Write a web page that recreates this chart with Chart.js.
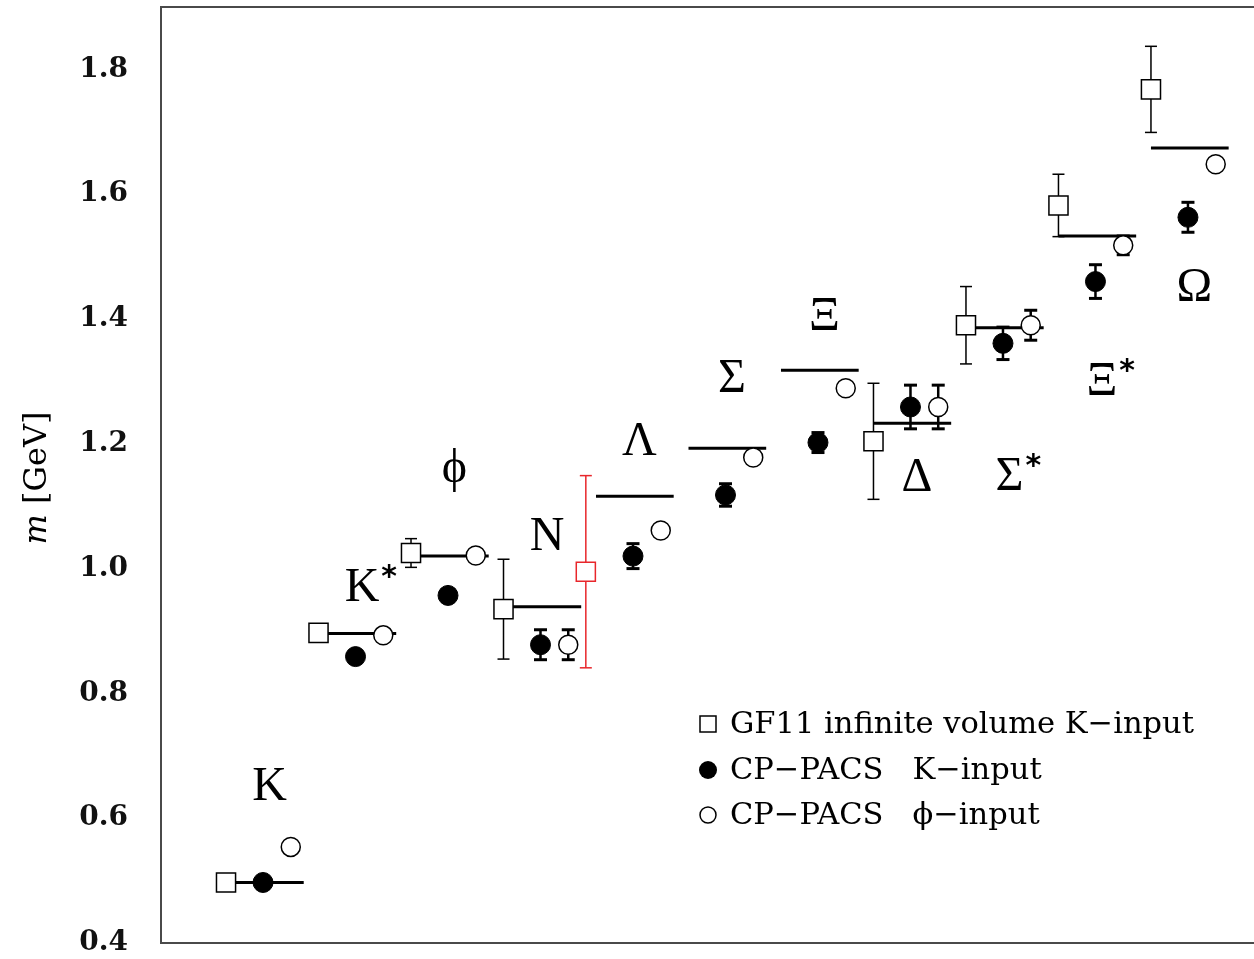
<!DOCTYPE html>
<html>
<head>
<meta charset="utf-8">
<script src="https://cdn.jsdelivr.net/npm/chart.js@4.4.0/dist/chart.umd.min.js"></script>
<style>
  html, body { margin: 0; padding: 0; background: #fff; overflow: hidden; }
  #wrap { width: 1254px; height: 959px; }
  canvas { display: block; }
</style>
</head>
<body>
<div id="wrap"><canvas id="massChart" width="1254" height="959"></canvas></div>
<script>
// hadron spectrum, masses in GeV (one entry per particle, null = not measured)
const particles = ['K', 'K*', 'ϕ', 'N', 'Λ', 'Σ', 'Ξ', 'Δ', 'Σ*', 'Ξ*', 'Ω'];
const expMass = [0.497, 0.896, 1.020, 0.939, 1.116, 1.193, 1.318, 1.233, 1.386, 1.533, 1.674];

const gf11Mass = [0.497, 0.897, 1.025, 0.935, null, null, null, 1.204, 1.390, 1.582, 1.768];
const gf11Err  = [0, 0.004, 0.023, 0.080, null, null, null, 0.093, 0.062, 0.050, 0.069];
// the red GF11 point sitting next to Lambda
const gf11RedMass = [null, null, null, null, 0.995, null, null, null, null, null, null];
const gf11RedErr  = [null, null, null, null, 0.154, null, null, null, null, null, null];

const kInputMass = [0.497, 0.859, 0.957, 0.878, 1.020, 1.118, 1.202, 1.259, 1.361, 1.460, 1.563];
const kInputErr  = [0, 0, 0, 0.024, 0.020, 0.018, 0.016, 0.035, 0.026, 0.027, 0.024];
const phiInputMass = [0.554, 0.893, 1.021, 0.878, 1.061, 1.178, 1.289, 1.259, 1.390, 1.518, 1.648];
const phiInputErr  = [0, 0, 0, 0.024, 0, 0, 0, 0.035, 0.024, 0.015, 0];

// where the particle names sit (mass units)
const labelMass = [0.650, 0.969, 1.159, 1.050, 1.202, 1.303, 1.402, 1.144, 1.146, 1.298, 1.449];

const yTicks = [0.4, 0.6, 0.8, 1.0, 1.2, 1.4, 1.6, 1.8];
const legendLabels = ['GF11 infinite volume K\u2212input', 'CP\u2212PACS   K\u2212input', 'CP\u2212PACS   \u03d5\u2212input'];

// offsets inside each particle's slot
const OFF_GF = 0, OFF_K = 0.40, OFF_PHI = 0.70, OFF_RED = -0.11, LINE_END = 0.84, OFF_LABEL = 0.47;

function points(mass, off) {
  const out = [];
  mass.forEach((m, i) => { if (m != null) out.push({ x: i + off, y: m }); });
  return out;
}
function errBars(mass, err, off) {
  const out = [];
  mass.forEach((m, i) => {
    if (m == null || !err[i]) return;
    out.push({ x: i + off, y: m - err[i] }, { x: i + off, y: m + err[i] }, { x: i + off, y: null });
  });
  return out;
}
function expSegments() {
  const out = [];
  expMass.forEach((m, i) => {
    out.push({ x: i, y: m }, { x: i + LINE_END, y: m }, { x: i + LINE_END, y: null });
  });
  return out;
}

const SERIF = 'DejaVu Serif';
const LABEL_FONT = '48px "Liberation Serif"';

const overlay = {
  id: 'overlay',
  afterDraw(chart) {
    const ctx = chart.ctx;
    const area = chart.chartArea;
    const xs = chart.scales.x, ys = chart.scales.y;
    ctx.save();

    // frame (left, top, bottom)
    ctx.strokeStyle = '#4a4a4a';
    ctx.lineWidth = 2;
    ctx.beginPath();
    ctx.moveTo(area.right + 2, area.top);
    ctx.lineTo(area.left, area.top);
    ctx.lineTo(area.left, area.bottom);
    ctx.lineTo(area.right + 2, area.bottom);
    ctx.stroke();

    // particle names
    ctx.fillStyle = '#000';
    ctx.textBaseline = 'middle';
    particles.forEach((name, i) => {
      const px = xs.getPixelForValue(i + OFF_LABEL);
      const py = ys.getPixelForValue(labelMass[i]);
      const star = name.endsWith('*');
      const base = star ? name.slice(0, -1) : name;
      ctx.font = LABEL_FONT;
      ctx.textAlign = 'center';
      ctx.fillText(base, px, py);
      if (star) {
        const w = ctx.measureText(base).width;
        ctx.font = 'bold 30px "DejaVu Sans"';
        ctx.textAlign = 'left';
        ctx.fillText('*', px + w / 2 + 2, py - 10);
      }
    });

    // y title: italic m, then [GeV]
    ctx.translate(38, 478);
    ctx.rotate(-Math.PI / 2);
    ctx.textBaseline = 'middle';
    ctx.textAlign = 'left';
    ctx.font = 'italic 32px "' + SERIF + '"';
    const wm = ctx.measureText('m ').width;
    ctx.font = '32px "' + SERIF + '"';
    const wg = ctx.measureText('[GeV]').width;
    const x0 = -(wm + wg) / 2;
    ctx.font = 'italic 32px "' + SERIF + '"';
    ctx.fillText('m', x0, 0);
    ctx.font = '32px "' + SERIF + '"';
    ctx.fillText('[GeV]', x0 + wm, 0);
    ctx.setTransform(1, 0, 0, 1, 0, 0);

    // legend
    const lx = 708, rows = [724, 770, 815];
    ctx.lineWidth = 1.5;
    ctx.strokeStyle = '#000';
    ctx.fillStyle = '#fff';
    ctx.fillRect(lx - 8, rows[0] - 8, 16, 16);
    ctx.strokeRect(lx - 8, rows[0] - 8, 16, 16);
    ctx.fillStyle = '#000';
    ctx.beginPath(); ctx.arc(lx, rows[1], 9, 0, Math.PI * 2); ctx.fill();
    ctx.beginPath(); ctx.arc(lx, rows[2], 8, 0, Math.PI * 2); ctx.stroke();
    ctx.font = '30.5px "' + SERIF + '"';
    ctx.textAlign = 'left';
    ctx.textBaseline = 'middle';
    legendLabels.forEach((t, k) => ctx.fillText(t, 730, rows[k] + 1));

    ctx.restore();
  }
};

const ctx = document.getElementById('massChart').getContext('2d');
const massChart = new Chart(ctx, {
  type: 'scatter',
  data: {
    datasets: [
      {
        label: 'GF11 infinite volume K-input',
        data: points(gf11Mass, OFF_GF),
        pointStyle: 'rect', pointRadius: 13.5,
        pointBackgroundColor: '#fff', pointBorderColor: '#000', pointBorderWidth: 1.5
      },
      {
        label: 'GF11 (red)',
        data: points(gf11RedMass, OFF_RED),
        pointStyle: 'rect', pointRadius: 13.5,
        pointBackgroundColor: '#fff', pointBorderColor: '#e8262b', pointBorderWidth: 1.5
      },
      {
        label: 'CP-PACS K-input',
        data: points(kInputMass, OFF_K),
        pointStyle: 'circle', pointRadius: 10,
        pointBackgroundColor: '#000', pointBorderColor: '#000', pointBorderWidth: 1
      },
      {
        label: 'CP-PACS phi-input',
        data: points(phiInputMass, OFF_PHI),
        pointStyle: 'circle', pointRadius: 9.5,
        pointBackgroundColor: '#fff', pointBorderColor: '#000', pointBorderWidth: 1.5
      },
      {
        label: 'GF11 errors',
        data: errBars(gf11Mass, gf11Err, OFF_GF),
        showLine: true, spanGaps: false,
        borderColor: '#000', borderWidth: 1.5,
        pointStyle: 'line', pointRadius: 6, pointBorderColor: '#000', pointBorderWidth: 1.5
      },
      {
        label: 'GF11 red errors',
        data: errBars(gf11RedMass, gf11RedErr, OFF_RED),
        showLine: true, spanGaps: false,
        borderColor: '#e8262b', borderWidth: 1.5,
        pointStyle: 'line', pointRadius: 6, pointBorderColor: '#e8262b', pointBorderWidth: 1.5
      },
      {
        label: 'K-input errors',
        data: errBars(kInputMass, kInputErr, OFF_K),
        showLine: true, spanGaps: false,
        borderColor: '#000', borderWidth: 2.5,
        pointStyle: 'line', pointRadius: 6.5, pointBorderColor: '#000', pointBorderWidth: 3
      },
      {
        label: 'phi-input errors',
        data: errBars(phiInputMass, phiInputErr, OFF_PHI),
        showLine: true, spanGaps: false,
        borderColor: '#000', borderWidth: 2.5,
        pointStyle: 'line', pointRadius: 6.5, pointBorderColor: '#000', pointBorderWidth: 3
      },
      {
        label: 'experiment',
        data: expSegments(),
        showLine: true, spanGaps: false,
        borderColor: '#000', borderWidth: 3,
        pointRadius: 0
      }
    ]
  },
  options: {
    responsive: false,
    animation: false,
    events: [],
    layout: { autoPadding: false, padding: { left: 0, right: 0, top: 7, bottom: 16 } },
    plugins: { legend: { display: false }, tooltip: { enabled: false } },
    scales: {
      x: {
        type: 'linear', display: false,
        min: -0.703, max: 11.114
      },
      y: {
        type: 'linear', min: 0.4, max: 1.9,
        grid: { display: false, drawTicks: false },
        border: { display: false },
        afterBuildTicks: (scale) => { scale.ticks = yTicks.map(v => ({ value: v })); },
        afterFit: (scale) => {
          scale.width = 161;
          scale.paddingTop = 0; scale.paddingBottom = 0;
          scale.paddingLeft = 0; scale.paddingRight = 0;
        },
        ticks: {
          padding: 33,
          color: '#111',
          font: { family: SERIF, size: 28, weight: 'bold' },
          callback: (v) => v.toFixed(1)
        }
      }
    }
  },
  plugins: [overlay]
});
</script>
</body>
</html>
